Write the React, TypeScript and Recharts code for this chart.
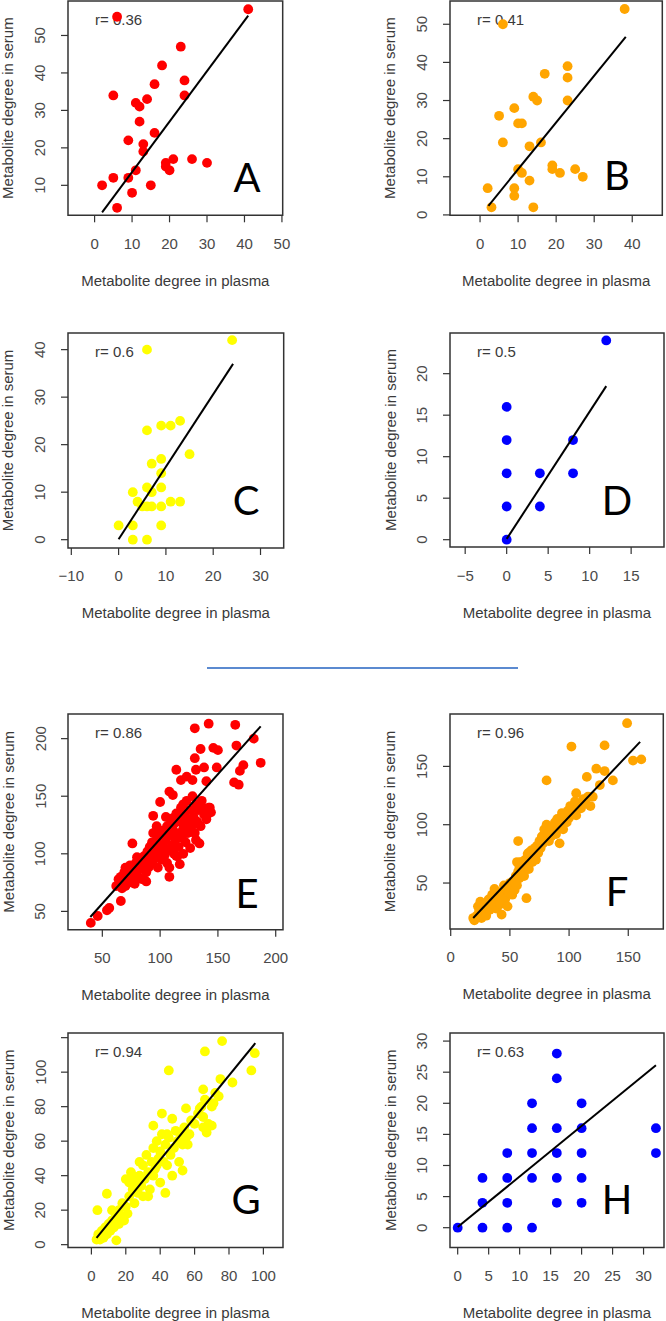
import React from 'react';
import { ScatterChart, Scatter, XAxis, YAxis, ReferenceArea } from 'recharts';

type Pt = [number, number];

const FONT = '"Liberation Sans", Arial, Helvetica, sans-serif';
const LETTER_FONT = 'Lato, "Open Sans", "Liberation Sans", sans-serif';

const X_TITLE = 'Metabolite degree in plasma';
const Y_TITLE = 'Metabolite degree in serum';

// ---------- Panel A (red, top) ----------
const pointsA: Pt[] = [
  [6, 55], [41, 57], [23, 47], [18, 42], [24, 38], [16, 37], [24, 34], [5, 34], [14, 33], [11, 32],
  [12, 31], [12, 27], [16, 24], [9, 22], [13, 21], [13, 19], [21, 17], [26, 17], [19, 16], [30, 16],
  [19, 15], [20, 14], [11, 14], [2, 10], [5, 12], [9, 12], [15, 10], [10, 8], [6, 4],
];
const fitA: Pt[] = [[2, 2.8], [41, 55.3]];
const xTicksA = [0, 10, 20, 30, 40, 50];
const yTicksA = [10, 20, 30, 40, 50];

// ---------- Panel B (orange, top) ----------
const pointsB: Pt[] = [
  [6, 50], [38, 54], [23, 39], [23, 36], [17, 37], [14, 31], [15, 30], [23, 30], [9, 28], [5, 26],
  [10, 24], [11, 24], [6, 19], [16, 19], [13, 18], [19, 13], [19, 12], [10, 12], [11, 11], [21, 11],
  [25, 12], [27, 10], [13, 9], [9, 7], [9, 5], [2, 7], [3, 2], [14, 2],
];
const fitB: Pt[] = [[2.2, 2.4], [38.3, 46.7]];
const xTicksB = [0, 10, 20, 30, 40];
const yTicksB = [0, 10, 20, 30, 40, 50];

// ---------- Panel C (yellow, top) ----------
const pointsC: Pt[] = [
  [6, 40], [24, 42], [13, 25], [9, 24], [11, 24], [6, 23], [15, 18], [9, 17], [7, 16], [9, 14],
  [6, 11], [9, 11], [3, 10], [7, 10], [4, 8], [11, 8], [13, 8], [5, 7], [6, 7], [7, 7],
  [9, 7], [0, 3], [3, 3], [9, 3], [3, 0], [6, 0],
];
const fitC: Pt[] = [[0, 0.1], [24.2, 37]];
const xTicksC = [-10, 0, 10, 20, 30];
const yTicksC = [0, 10, 20, 30, 40];

// ---------- Panel D (blue, top) ----------
const pointsD: Pt[] = [
  [0, 0], [0, 4], [0, 8], [0, 12], [0, 16], [4, 4], [4, 8], [8, 8], [8, 12], [12, 24],
];
const fitD: Pt[] = [[0, 0.1], [12, 18.5]];
const xTicksD = [-5, 0, 5, 10, 15];
const yTicksD = [0, 5, 10, 15, 20];

// ---------- Panel E (red, bottom) ----------
const pointsE: Pt[] = [
  [130, 209], [142, 213], [165, 212], [181, 200], [166, 194], [146, 192], [150, 190], [135, 191],
  [130, 183], [172, 177], [187, 179], [169, 172], [149, 175], [138, 175], [114, 173], [131, 173],
  [123, 167], [118, 164], [128, 164], [140, 163], [164, 162], [168, 160], [108, 154], [111, 151],
  [100, 145], [131, 143], [143, 140], [137, 140], [120, 143], [140, 132], [94, 133], [105, 132],
  [111, 131], [118, 128], [123, 124], [128, 119], [97, 124], [131, 112], [134, 109], [126, 105],
  [114, 98], [117, 91], [108, 88], [108, 80], [76, 109], [66, 59], [56, 53], [54, 51], [46, 46], [40, 40],
  [62, 72], [64, 78], [65, 74], [66, 80], [67, 70], [68, 76], [69, 84], [70, 88], [70, 72], [71, 79],
  [72, 82], [73, 75], [74, 90], [75, 78], [76, 86], [77, 82], [78, 74], [79, 92], [80, 85], [80, 97],
  [81, 80], [82, 89], [83, 94], [84, 78], [85, 87], [86, 98], [87, 92], [88, 76], [88, 84], [89, 102],
  [90, 95], [90, 88], [91, 106], [92, 99], [93, 110], [93, 92], [94, 118], [95, 103], [96, 96], [97, 112],
  [98, 100], [98, 88], [99, 108], [100, 116], [100, 102], [101, 95], [102, 120], [103, 106], [104, 99], [105, 112],
  [106, 124], [106, 92], [107, 103], [108, 116], [109, 130], [110, 107], [111, 120], [112, 100], [112, 126], [113, 112],
  [114, 135], [115, 118], [116, 106], [117, 128], [118, 140], [119, 114], [120, 122], [121, 134], [122, 110], [123, 146],
  [124, 118], [125, 130], [126, 138], [127, 124], [128, 150], [129, 132], [130, 118], [132, 128], [133, 138], [135, 124],
  [136, 146], [138, 134], [140, 130], [142, 140], [144, 136], [104, 118], [115, 98], [120, 100], [97, 120], [84, 96],
];
const fitE: Pt[] = [[39.6, 45.1], [187, 210.7]];
const xTicksE = [50, 100, 150, 200];
const yTicksE = [50, 100, 150, 200];

// ---------- Panel F (orange, bottom) ----------
const pointsF: Pt[] = [
  [149, 187], [102, 167], [130, 168], [154, 155], [161, 156], [123, 148], [130, 146], [115, 141],
  [81, 138], [137, 138], [126, 134], [106, 127], [120, 124], [118, 116], [57, 86], [64, 37],
  [19, 20], [20, 18], [22, 22], [23, 30], [24, 26], [25, 34], [26, 20], [27, 28], [28, 24], [29, 32],
  [30, 22], [31, 30], [32, 36], [33, 27], [34, 33], [35, 40], [36, 30], [37, 45], [38, 35], [39, 28],
  [40, 38], [41, 42], [42, 32], [43, 23], [44, 40], [45, 48], [46, 36], [47, 44], [48, 30], [49, 42],
  [50, 50], [51, 46], [52, 40], [53, 52], [54, 44], [55, 56], [56, 48], [57, 60], [58, 54], [59, 68],
  [60, 58], [61, 62], [62, 56], [63, 70], [64, 66], [65, 75], [66, 62], [67, 72], [68, 78], [69, 68],
  [70, 74], [71, 80], [72, 70], [73, 82], [74, 76], [75, 86], [76, 80], [77, 90], [78, 84], [79, 96],
  [80, 88], [81, 100], [82, 92], [83, 86], [84, 96], [85, 90], [86, 98], [87, 94], [88, 102], [89, 92],
  [90, 105], [91, 98], [92, 84], [93, 100], [94, 110], [95, 96], [96, 104], [97, 108], [98, 102], [99, 112],
  [100, 106], [101, 116], [102, 110], [104, 112], [105, 120], [106, 108], [108, 118], [110, 114], [112, 122], [114, 118],
  [116, 124], [60, 68], [56, 68], [66, 76], [58, 64],
];
const fitF: Pt[] = [[19, 20], [160, 171]];
const xTicksF = [0, 50, 100, 150];
const yTicksF = [50, 100, 150];

// ---------- Panel G (yellow, bottom) ----------
const pointsG: Pt[] = [
  [76, 118], [66, 112], [95, 111], [45, 101], [93, 101], [75, 96], [82, 94], [65, 90], [74, 86], [71, 82],
  [55, 79], [63, 79], [41, 76], [65, 74], [47, 73], [36, 69], [65, 68], [70, 69], [67, 65], [53, 43],
  [43, 30], [3.5, 20], [9, 29.5], [14.5, 2.5],
  [3, 3], [4, 6], [5, 3], [6, 8], [7, 4], [8, 10], [9, 6], [10, 12], [11, 8], [12, 14],
  [13, 10], [14, 18], [15, 12], [16, 20], [17, 16], [18, 24], [19, 14], [20, 22], [20, 38], [21, 18],
  [22, 36], [22, 28], [23, 42], [24, 32], [25, 24], [26, 36], [27, 30], [28, 40], [29, 34], [30, 46],
  [30, 28], [31, 38], [32, 52], [33, 42], [34, 32], [35, 48], [36, 56], [36, 40], [37, 44], [38, 60],
  [39, 50], [40, 36], [40, 54], [41, 64], [42, 48], [43, 58], [44, 46], [45, 62], [46, 52], [47, 40],
  [48, 56], [49, 66], [50, 60], [51, 48], [52, 64], [53, 58], [54, 68], [55, 62], [56, 58], [57, 64],
  [58, 72], [60, 70], [62, 76], [64, 80], [66, 84], [68, 70], [70, 80], [72, 88], [12, 20], [16, 12],
  [24, 40], [28, 48], [33, 28], [44, 64], [38, 46],
];
const fitG: Pt[] = [[3, 4], [95.3, 116.8]];
const xTicksG = [0, 20, 40, 60, 80, 100];
const yTicksG = [0, 20, 40, 60, 80, 100, 120];
const yTickLabelsG = ['0', '20', '40', '60', '80', '100', ''];

// ---------- Panel H (blue, bottom) ----------
const pointsH: Pt[] = [
  [0, 0], [4, 0], [4, 4], [4, 8], [8, 0], [8, 4], [8, 8], [8, 12], [12, 0], [12, 8],
  [12, 12], [12, 16], [12, 20], [16, 4], [16, 8], [16, 12], [16, 16], [16, 24], [16, 28], [20, 4],
  [20, 8], [20, 12], [20, 16], [20, 20], [32, 12], [32, 16],
];
const fitH: Pt[] = [[0, 0.1], [32, 26.1]];
const xTicksH = [0, 5, 10, 15, 20, 25, 30];
const yTicksH = [0, 5, 10, 15, 20, 25, 30];

const RED = '#ff0000';
const ORANGE = '#ffa500';
const YELLOW = '#ffff00';
const BLUE = '#0000ff';

interface Box { l: number; t: number; r: number; b: number }
interface PanelCfg {
  letter: string;
  rText: string;
  color: string;
  points: Pt[];
  fit: Pt[];
  xTicks: number[];
  yTicks: number[];
  yTickLabels?: string[];
  xDomain: [number, number];
  yDomain: [number, number];
  box: Box;
  letterX: number;
  letterY: number;
}

const panels: PanelCfg[] = [
  { letter: 'A', rText: 'r= 0.36', color: RED, points: pointsA, fit: fitA, xTicks: xTicksA, yTicks: yTicksA,
    xDomain: [-7.1, 50.2], yDomain: [2.0, 59.2], box: { l: 68.3, t: 0.7, r: 283, b: 215 }, letterX: 179, letterY: 191 },
  { letter: 'B', rText: 'r= 0.41', color: ORANGE, points: pointsB, fit: fitB, xTicks: xTicksB, yTicks: yTicksB,
    xDomain: [-7.9, 47.9], yDomain: [-0.1, 56.1], box: { l: 449.7, t: 0.7, r: 662, b: 215 }, letterX: 167, letterY: 189 },
  { letter: 'C', rText: 'r= 0.6', color: YELLOW, points: pointsC, fit: fitC, xTicks: xTicksC, yTicks: yTicksC,
    xDomain: [-10.7, 34.9], yDomain: [-1.75, 43.5], box: { l: 68.3, t: 333.3, r: 284, b: 548.3 }, letterX: 178, letterY: 182 },
  { letter: 'D', rText: 'r= 0.5', color: BLUE, points: pointsD, fit: fitD, xTicks: xTicksD, yTicks: yTicksD,
    xDomain: [-6.83, 18.96], yDomain: [-0.88, 24.9], box: { l: 449.7, t: 333.3, r: 663.7, b: 547.3 }, letterX: 167, letterY: 182 },
  { letter: 'E', rText: 'r= 0.86', color: RED, points: pointsE, fit: fitE, xTicks: xTicksE, yTicks: yTicksE,
    xDomain: [20.3, 206.3], yDomain: [34.1, 221.4], box: { l: 68.3, t: 714.3, r: 283.3, b: 930 }, letterX: 179, letterY: 194 },
  { letter: 'F', rText: 'r= 0.96', color: ORANGE, points: pointsF, fit: fitF, xTicks: xTicksF, yTicks: yTicksF,
    xDomain: [-0.6, 179.6], yDomain: [10.6, 194.9], box: { l: 449.7, t: 714.3, r: 663, b: 929.3 }, letterX: 167, letterY: 192 },
  { letter: 'G', rText: 'r= 0.94', color: YELLOW, points: pointsG, fit: fitG, xTicks: xTicksG, yTicks: yTicksG,
    yTickLabels: yTickLabelsG,
    xDomain: [-13.6, 111.4], yDomain: [-1.7, 122.7], box: { l: 68.3, t: 1032.7, r: 283.3, b: 1247.3 }, letterX: 178, letterY: 181 },
  { letter: 'H', rText: 'r= 0.63', color: BLUE, points: pointsH, fit: fitH, xTicks: xTicksH, yTicks: yTicksH,
    xDomain: [-1.24, 33.3], yDomain: [-3.2, 31.3], box: { l: 449.7, t: 1032.7, r: 663.7, b: 1247.3 }, letterX: 167, letterY: 181 },
];

const fmt = (v: number) => (v < 0 ? '\u2212' + Math.abs(v) : String(v));

const TICK_SIZE = 7;
const ML = 72;
const MT = 4;
const MR = 24;
const XH = 76;

const XTick = (props: any) => {
  const { x, y, payload } = props;
  return (
    <text x={x} y={y + 21} textAnchor="middle" dominantBaseline="central" fontSize={15} fill="#4a4a4a" fontFamily={FONT}>
      {fmt(payload.value)}
    </text>
  );
};

const YTick = (props: any) => {
  const { x, y, payload, ticks, labels } = props;
  let label = fmt(payload.value);
  if (labels && ticks) {
    const i = ticks.indexOf(payload.value);
    if (i >= 0) label = labels[i];
  }
  const cx = x - 21;
  return (
    <text x={cx} y={y} transform={`rotate(-90, ${cx}, ${y})`} textAnchor="middle" dominantBaseline="central"
      fontSize={15} fill="#4a4a4a" fontFamily={FONT}>
      {label}
    </text>
  );
};

const PanelText = (props: any) => {
  const { cfg, w, h } = props;
  const vb = props.viewBox && typeof props.viewBox.x === 'number' ? props.viewBox : { x: ML, y: MT, width: w, height: h };
  const bx = vb.x;
  const by = vb.y;
  const bw = vb.width;
  const bh = vb.height;
  const yTitleX = bx - 60;
  const yTitleY = by + bh / 2;
  return (
    <g>
      <text x={bx + 27} y={by + 24} fontSize={15} fill="#3a3a3a" fontFamily={FONT}>{cfg.rText}</text>
      <text x={bx + cfg.letterX} y={by + cfg.letterY} textAnchor="middle" fontSize={40} fill="#000" fontFamily={LETTER_FONT}>
        {cfg.letter}
      </text>
      <text x={bx + bw / 2} y={by + bh + 65} textAnchor="middle" dominantBaseline="central" fontSize={15}
        fill="#3a3a3a" fontFamily={FONT}>
        {X_TITLE}
      </text>
      <text x={yTitleX} y={yTitleY} transform={`rotate(-90, ${yTitleX}, ${yTitleY})`} textAnchor="middle"
        dominantBaseline="central" fontSize={15} fill="#3a3a3a" fontFamily={FONT}>
        {Y_TITLE}
      </text>
    </g>
  );
};

const EmptyShape = () => <g />;

function Panel({ cfg }: { cfg: PanelCfg }) {
  const { box } = cfg;
  const w = box.r - box.l;
  const h = box.b - box.t;
  const data = cfg.points.map(([x, y]) => ({ x, y }));
  const fit = cfg.fit.map(([x, y]) => ({ x, y }));
  const color = cfg.color;
  const Dot = (p: any) => <circle cx={p.cx} cy={p.cy} r={4.9} fill={color} />;
  return (
    <div style={{ position: 'absolute', left: box.l - ML, top: box.t - MT }}>
      <ScatterChart width={ML + w + MR} height={MT + h + XH} margin={{ top: MT, right: MR, bottom: 0, left: 0 }}>
        <XAxis type="number" dataKey="x" domain={cfg.xDomain} allowDataOverflow ticks={cfg.xTicks} interval={0}
          height={XH} axisLine={false} tickLine={{ stroke: '#333', strokeWidth: 1.2 }} tickSize={TICK_SIZE} tickMargin={0}
          tick={<XTick />} />
        <YAxis type="number" dataKey="y" domain={cfg.yDomain} allowDataOverflow ticks={cfg.yTicks} interval={0}
          width={ML} axisLine={false} tickLine={{ stroke: '#333', strokeWidth: 1.2 }} tickSize={TICK_SIZE} tickMargin={0}
          tick={<YTick ticks={cfg.yTicks} labels={cfg.yTickLabels} />} />
        <ReferenceArea x1={cfg.xDomain[0]} x2={cfg.xDomain[1]} y1={cfg.yDomain[0]} y2={cfg.yDomain[1]}
          fill="none" fillOpacity={0} stroke="#333" strokeWidth={1.5} ifOverflow="visible"
          label={<PanelText cfg={cfg} w={w} h={h} />} />
        <Scatter data={data} fill={color} shape={Dot} isAnimationActive={false} />
        <Scatter data={fit} line={{ stroke: '#000', strokeWidth: 2 }} shape={EmptyShape} isAnimationActive={false} />
      </ScatterChart>
    </div>
  );
}

export default function App() {
  return (
    <div style={{ position: 'absolute', left: 0, top: 0, width: 666, height: 1321, overflow: 'hidden', background: '#fff' }}>
      {panels.map((cfg) => (
        <Panel key={cfg.letter} cfg={cfg} />
      ))}
      <div style={{ position: 'absolute', left: 207, top: 667, width: 311, height: 2, background: '#5b8ad0' }} />
    </div>
  );
}
